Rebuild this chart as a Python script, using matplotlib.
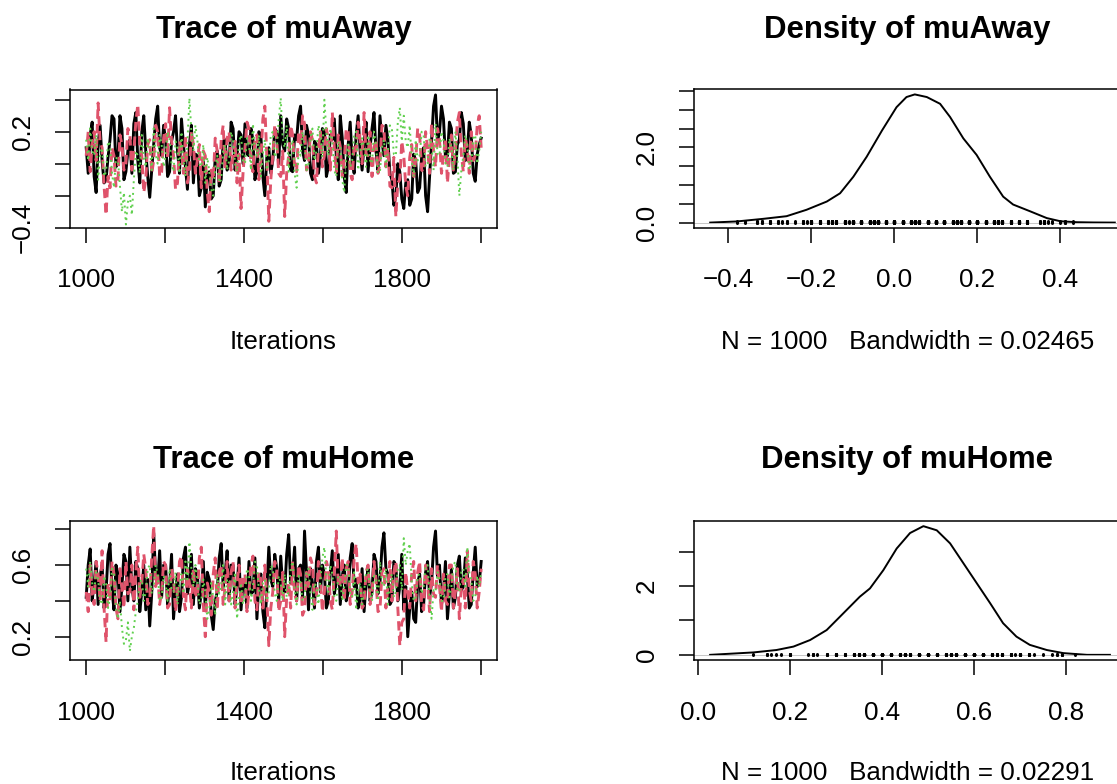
import numpy as np
import matplotlib
matplotlib.use("Agg")
import matplotlib.pyplot as plt

plt.rcParams['font.family'] = ['Liberation Sans', 'DejaVu Sans']

# --- trace values in hundredths (one value per ~5 iterations) ---
away_chain1 = [10, -6, 18, 26, -8, -18, 12, 24, 2, -12, -10, 4, 15, 30, 28, -2, 5, 30, 22, -10,
               -5, 8, 15, -6, 25, 32, 2, -12, 20, 30, 8, -8, -21, -4, 12, 28, 36, 10, 5, 24,
               15, -8, -5, 14, 20, 30, 8, -6, 28, 12, -2, -16, 12, 24, -12, 6, 5, -20, -15, 2,
               -27, -8, -5, -22, -20, 4, 8, -14, -10, 14, 15, -4, 0, 26, 22, -4, 5, 20, 18, 0,
               25, 6, 5, 22, 15, -10, -5, 20, 18, -8, -20, 4, 10, -6, 2, 22, 20, 0, 30, 12,
               8, 28, 22, -4, -5, 18, 15, 30, 36, 8, 2, 24, 18, -6, -10, 14, 12, -6, 5, 22,
               20, -8, -2, 18, 15, 28, 5, -10, 30, 16, -8, -18, 12, 26, 2, -6, 18, 30, 8, -4,
               12, 26, -5, 10, 22, 32, 8, -4, 30, 14, 5, 24, 15, -6, -10, -26, -20, 0, -5, -22,
               -28, -12, -10, -26, -22, 6, 2, -18, -15, 4, 10, -20, -30, -8, 15, 36, 43, 14, 20, 36,
               28, 4, 5, 26, 22, -6, -5, 12, 15, 32, 25, 2, 8, 26, 18, -6, -11, 6, 12, 16]
away_chain2 = [5, 20, -5, 12, 20, 2, 38, 14, 10, -14, -32, -8, -15, 10, 5, -14, -10, 18, 12, -4,
               0, 22, 18, -4, 8, 26, 37, 12, 5, -18, -10, 12, 15, -6, 2, 24, 20, -8, -5, 16,
               25, 4, 35, 14, 5, -16, -12, 14, 10, -6, 18, -12, -5, 20, 12, -6, 2, 12, -15, 8,
               5, -18, -30, -4, -10, 16, 8, -12, 15, 24, -2, 16, 20, -4, 5, 14, -12, 6, -28, -6,
               10, 26, 22, 0, -5, 14, 18, -10, 2, 28, 36, 4, -36, -10, 5, 24, 15, -6, -8, 8,
               -33, -6, 5, 24, 18, -2, -5, 20, 12, 30, 25, -4, 0, 20, 15, -8, -12, 10, 20, -2,
               5, 22, 15, -4, 32, 10, -5, 18, 10, -8, 2, 22, 20, -6, -10, 12, 8, 26, 15, 0,
               32, 6, 5, 20, -8, 10, 15, -6, 0, 24, 22, -2, 10, -14, -15, 4, -33, -12, -10, 14,
               5, -14, -20, 4, 12, -8, 2, 22, 18, -4, -5, 20, 10, -6, 25, 8, -2, 22, 15, -6,
               5, 16, -12, 4, 18, -4, 8, 26, 32, 6, -5, 16, 10, -6, 20, 2, 5, 24, 30, 10]
away_chain3 = [15, 2, 22, 8, 5, 18, -10, 6, 10, -8, -5, 14, 12, -6, -15, 4, 2, -14, -30, -18,
               -38, -24, -20, -32, -10, 8, 5, -6, 18, 4, -2, 16, 10, -4, 22, 6, 0, 18, 12, -2,
               5, 20, 15, 0, -5, 14, 10, -6, 20, 2, -8, 14, 41, 20, 8, 24, 15, 0, -2, 12,
               -12, 4, -5, -16, -20, -2, 5, -12, -10, 8, 12, -4, 2, 20, 15, 0, -5, 14, 18, 2,
               0, 16, 12, -4, 25, 8, 5, 18, -8, 6, 15, -4, 2, 18, 20, 4, 8, 28, 41, 16,
               10, 24, -5, 10, 15, -6, -15, 8, 5, 20, 12, -4, 0, 16, 22, 2, 8, 24, 18, 4,
               40, 20, 5, 22, 15, -4, -8, 14, 10, -10, -18, 4, 12, -2, 2, 18, 20, -4, 5, 16,
               10, -2, 18, 2, 0, 20, 12, -6, -5, 10, 15, -2, 8, 24, 22, 6, 5, 26, 35, 14,
               30, 14, 10, 24, 2, -8, 15, 2, 5, 20, 18, -2, 0, 16, 12, -4, 25, 6, 5, 20,
               15, 0, -2, 16, 10, -4, 20, 4, -20, -4, 5, 18, 12, -4, 0, 16, 18, 0, 8, 20]

home_chain1 = [42, 60, 69, 40, 50, 62, 38, 54, 60, 36, 45, 66, 72, 46, 35, 60, 55, 34, 48, 66,
               62, 40, 70, 48, 40, 62, 58, 34, 45, 60, 35, 52, 26, 44, 78, 54, 50, 68, 42, 60,
               60, 38, 48, 66, 30, 46, 55, 34, 42, 64, 70, 44, 50, 66, 38, 58, 55, 36, 45, 62,
               35, 56, 52, 32, 24, 40, 45, 64, 72, 48, 55, 68, 40, 60, 60, 38, 48, 64, 35, 50,
               50, 36, 62, 44, 45, 64, 30, 50, 55, 34, 25, 46, 70, 52, 48, 66, 58, 40, 65, 48,
               45, 66, 77, 50, 55, 70, 40, 58, 60, 42, 79, 56, 35, 58, 50, 36, 62, 70, 45, 60,
               55, 36, 40, 56, 68, 44, 50, 66, 38, 54, 60, 40, 45, 64, 72, 48, 52, 36, 40, 58,
               34, 50, 58, 40, 45, 66, 62, 44, 50, 70, 78, 58, 55, 38, 40, 62, 60, 40, 48, 66,
               35, 48, 20, 36, 45, 30, 28, 50, 55, 34, 38, 56, 62, 42, 50, 70, 79, 54, 60, 38,
               45, 62, 30, 44, 58, 36, 42, 60, 65, 46, 48, 64, 55, 36, 38, 56, 70, 48, 50, 62]
home_chain2 = [45, 34, 60, 44, 38, 62, 55, 40, 68, 36, 17, 50, 40, 62, 55, 36, 30, 58, 48, 36,
               62, 44, 45, 60, 35, 56, 70, 42, 50, 66, 58, 38, 40, 64, 82, 48, 55, 38, 45, 62,
               60, 36, 38, 58, 52, 34, 45, 62, 65, 42, 35, 58, 50, 36, 58, 44, 42, 64, 70, 38,
               20, 50, 45, 32, 55, 64, 35, 56, 60, 38, 48, 62, 40, 56, 62, 36, 50, 60, 38, 54,
               55, 34, 45, 60, 65, 40, 35, 56, 52, 36, 60, 42, 15, 36, 45, 62, 58, 34, 40, 56,
               20, 42, 50, 36, 62, 44, 40, 60, 55, 32, 35, 56, 48, 64, 60, 38, 42, 62, 52, 34,
               45, 62, 58, 40, 35, 56, 79, 48, 50, 64, 40, 58, 62, 38, 45, 64, 72, 50, 55, 36,
               38, 56, 60, 38, 45, 62, 52, 34, 35, 56, 58, 36, 48, 62, 40, 56, 62, 36, 15, 28,
               30, 56, 45, 36, 55, 62, 40, 56, 62, 38, 35, 60, 50, 34, 58, 44, 42, 60, 48, 34,
               55, 40, 38, 60, 60, 36, 45, 58, 30, 48, 52, 36, 68, 46, 40, 62, 55, 36, 45, 58]
home_chain3 = [58, 48, 62, 50, 45, 56, 52, 40, 38, 54, 50, 36, 42, 58, 55, 36, 30, 40, 25, 16,
               18, 28, 12, 20, 25, 34, 40, 50, 52, 40, 45, 58, 60, 44, 48, 60, 55, 40, 42, 54,
               50, 40, 58, 46, 45, 56, 38, 50, 55, 44, 62, 52, 73, 58, 48, 60, 52, 38, 40, 52,
               45, 30, 35, 50, 42, 32, 55, 44, 48, 60, 38, 52, 52, 38, 45, 56, 30, 42, 50, 38,
               42, 58, 55, 40, 48, 62, 60, 46, 38, 50, 52, 40, 45, 60, 58, 44, 40, 54, 50, 40,
               55, 42, 45, 58, 62, 46, 38, 54, 50, 40, 42, 56, 58, 44, 35, 50, 48, 38, 52, 64,
               70, 52, 45, 60, 55, 42, 40, 54, 52, 40, 48, 60, 60, 44, 42, 56, 35, 46, 50, 38,
               45, 56, 58, 44, 40, 54, 52, 40, 62, 50, 48, 58, 38, 50, 55, 42, 45, 58, 60, 46,
               75, 60, 68, 72, 50, 40, 42, 54, 55, 44, 48, 60, 60, 42, 30, 46, 45, 56, 52, 40,
               40, 54, 55, 42, 48, 60, 62, 46, 45, 56, 58, 48, 70, 56, 52, 40, 42, 54, 48, 56]

# --- density curves ---
away_dens_x = [-0.444, -0.38, -0.316, -0.26, -0.212, -0.163, -0.131, -0.099, -0.067,
               -0.03, 0.005, 0.029, 0.049, 0.078, 0.11, 0.134, 0.166, 0.198, 0.23,
               0.262, 0.286, 0.327, 0.367, 0.40, 0.44, 0.48, 0.531]
away_dens_y = [0.0, 0.03, 0.10, 0.17, 0.34, 0.56, 0.78, 1.22, 1.75,
               2.45, 3.07, 3.34, 3.41, 3.34, 3.16, 2.81, 2.24, 1.80, 1.22,
               0.69, 0.48, 0.30, 0.12, 0.035, 0.01, 0.003, 0.0]
home_dens_x = [0.027, 0.121, 0.171, 0.208, 0.244, 0.28, 0.309, 0.352, 0.374, 0.403,
               0.432, 0.461, 0.49, 0.519, 0.548, 0.577, 0.606, 0.635, 0.663, 0.692,
               0.721, 0.758, 0.794, 0.845, 0.895]
home_dens_y = [0.0, 0.07, 0.14, 0.24, 0.43, 0.72, 1.11, 1.69, 1.93, 2.46,
               3.09, 3.54, 3.74, 3.62, 3.24, 2.66, 2.08, 1.50, 0.92, 0.53,
               0.29, 0.14, 0.05, 0.0, 0.0]

n_iter = 1000
bandwidths = {"muAway": "0.02465", "muHome": "0.02291"}

chain_colors = ["black", "#DF536B", "#61D04F"]

W, H = 1117, 784
fig = plt.figure(figsize=(W / 100, H / 100), dpi=100)


def pix_axes(l, t, r, b):
    return fig.add_axes([l / W, 1 - b / H, (r - l) / W, (b - t) / H])


def style(ax, xticks, xlabels, yticks, ylabels):
    for s in ax.spines.values():
        s.set_linewidth(1.1)
    ax.set_xticks(xticks)
    ax.set_xticklabels(xlabels)
    ax.set_yticks(yticks)
    ax.set_yticklabels(ylabels, rotation=90, va="center")
    ax.tick_params(direction="out", length=10.8, width=1.1, labelsize=18.7)
    ax.tick_params(axis="x", pad=18.5)
    ax.tick_params(axis="y", pad=14.6)


def trace(ax, chains):
    chains = [np.array(c) / 100 for c in chains]
    it = np.linspace(n_iter + 1, 2 * n_iter, len(chains[0]))
    ax.plot(it, chains[0], color=chain_colors[0], lw=2.1)
    ax.plot(it, chains[1], color=chain_colors[1], lw=2.1, dashes=(3.2, 1.8))
    ax.plot(it, chains[2], color=chain_colors[2], lw=1.4, dashes=(1.0, 2.0))
    ax.set_xlim(960, 2040)


def dens(ax, xs, ys, obs):
    ax.plot(xs, ys, color="black", lw=1.4, zorder=2)
    ax.axhline(0, color="#BEBEBE", lw=0.6, zorder=2.5)
    ax.vlines(obs, 0, max(ys) / 100, color="black", lw=2.2, capstyle="round", zorder=3)


# top-left: trace of muAway
ax = pix_axes(70, 89.5, 497, 227.7)
trace(ax, [away_chain1, away_chain2, away_chain3])
ax.set_ylim(-0.4, 0.464)
style(ax, [1000, 1200, 1400, 1600, 1800, 2000], ["1000", "", "1400", "", "1800", ""],
      [-0.4, -0.2, 0.0, 0.2, 0.4], ["\u22120.4", "", "", "0.2", ""])

# top-right: density of muAway
ax = pix_axes(694, 89.3, 1121, 227.7)
dens(ax, away_dens_x, away_dens_y, np.array(away_chain1 + away_chain2 + away_chain3) / 100)
ax.set_xlim(-0.483, -0.483 + 427 / 415)
ax.set_ylim(-0.136, 3.546)
style(ax, [-0.4, -0.2, 0.0, 0.2, 0.4], ["\u22120.4", "\u22120.2", "0.0", "0.2", "0.4"],
      [0, 0.5, 1.0, 1.5, 2.0, 2.5, 3.0, 3.5], ["0.0", "", "", "", "2.0", "", "", ""])

# bottom-left: trace of muHome
ax = pix_axes(70, 521, 497, 660)
trace(ax, [home_chain1, home_chain2, home_chain3])
ax.set_ylim(0.07, 0.846)
style(ax, [1000, 1200, 1400, 1600, 1800, 2000], ["1000", "", "1400", "", "1800", ""],
      [0.2, 0.4, 0.6, 0.8], ["0.2", "", "0.6", ""])

# bottom-right: density of muHome
ax = pix_axes(694, 521, 1121, 660)
dens(ax, home_dens_x, home_dens_y, np.array(home_chain1 + home_chain2 + home_chain3) / 100)
ax.set_xlim(-0.008, -0.008 + 427 / 460.6)
ax.set_ylim(-0.15, 3.89)
style(ax, [0.0, 0.2, 0.4, 0.6, 0.8], ["0.0", "0.2", "0.4", "0.6", "0.8"],
      [0, 1, 2, 3], ["0", "", "2", ""])


# titles and axis captions
def ftext(x, y, s, **kw):
    fig.text(x / W, 1 - y / H, s, ha="center", va="center", **kw)


ftext(283.5, 30, "Trace of muAway", fontsize=22.4, fontweight="bold")
ftext(907.5, 30, "Density of muAway", fontsize=22.4, fontweight="bold")
ftext(283.5, 460, "Trace of muHome", fontsize=22.4, fontweight="bold")
ftext(907.5, 460, "Density of muHome", fontsize=22.4, fontweight="bold")
ftext(283.5, 342, "Iterations", fontsize=18.7)
ftext(283.5, 773, "Iterations", fontsize=18.7)
ftext(907.5, 342, "N = %d   Bandwidth = %s" % (n_iter, bandwidths["muAway"]), fontsize=18.7)
ftext(907.5, 773, "N = %d   Bandwidth = %s" % (n_iter, bandwidths["muHome"]), fontsize=18.7)

fig.savefig("out.png", dpi=100)
